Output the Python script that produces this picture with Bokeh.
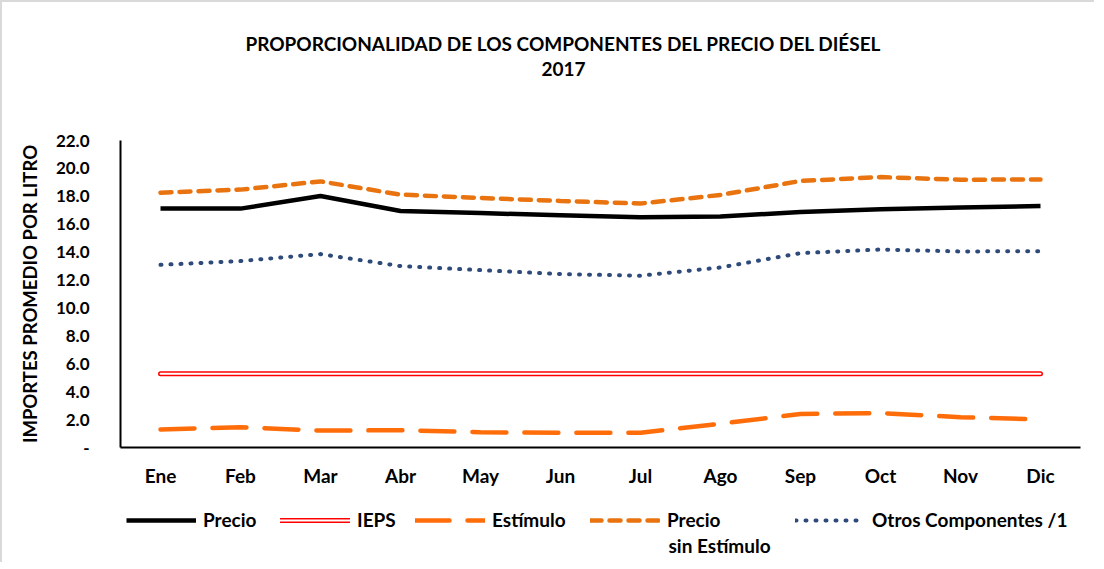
from bokeh.plotting import figure
from bokeh.layouts import column
from bokeh.models import Legend, LegendItem, Label, FactorRange, SingleIntervalTicker, CustomJSTickFormatter
from bokeh.embed import file_html
from bokeh.resources import INLINE

months = ["Ene", "Feb", "Mar", "Abr", "May", "Jun", "Jul", "Ago", "Sep", "Oct", "Nov", "Dic"]
precio = [17.12, 17.12, 18.02, 16.95, 16.80, 16.64, 16.50, 16.55, 16.88, 17.08, 17.19, 17.30]
ieps = [5.29] * 12
estimulo = [1.29, 1.45, 1.21, 1.24, 1.10, 1.05, 1.05, 1.71, 2.40, 2.47, 2.17, 2.02]
precio_sin = [18.26, 18.48, 19.07, 18.12, 17.88, 17.67, 17.48, 18.10, 19.10, 19.38, 19.19, 19.21]
otros = [13.09, 13.36, 13.86, 13.00, 12.71, 12.43, 12.31, 12.90, 13.93, 14.19, 14.05, 14.07]

title_1 = "PROPORCIONALIDAD DE LOS COMPONENTES DEL PRECIO DEL DIÉSEL"
title_2 = "2017"
y_title = "IMPORTES PROMEDIO POR LITRO"
legend_labels = ["Precio", "IEPS", "Estímulo", "Precio", "Otros Componentes /1"]
legend_extra = "sin Estímulo"

FONT = "Lato"
W = 1092

STYLES = {
    "precio": dict(line_color="black", line_width=4.5, line_join="round"),
    "ieps_o": dict(line_color="#ff0000", line_width=5, line_cap="round"),
    "ieps_i": dict(line_color="white", line_width=2, line_cap="round"),
    "est": dict(line_color="#ff6d0a", line_width=4.5, line_dash="34 18", line_cap="round"),
    "sin": dict(line_color="#e8730f", line_width=4.5, line_dash="11 8", line_cap="round"),
    "otros": dict(line_color="#2e4a7a", line_width=4, line_dash="1 9", line_cap="round"),
}

# ---- title band ----
p0 = figure(width=W, height=126, x_range=(0, 1), y_range=(0, 1), x_axis_type=None, y_axis_type=None,
            output_backend="svg", toolbar_location=None, min_border=0, outline_line_color=None)
p0.grid.visible = False
for txt, yy in ((title_1, 85), (title_2, 60)):
    p0.add_layout(Label(x=443, y=yy, x_units="screen", y_units="screen", text=txt,
                        text_align="center", text_baseline="middle", text_font=FONT,
                        text_font_style="bold", text_font_size="19px", text_color="black"))

# ---- main chart ----
p = figure(x_range=FactorRange(*months), y_range=(0, 22), width=W, height=364,
           output_backend="svg", toolbar_location=None,
           min_border_left=118, min_border_right=14, min_border_top=12, min_border_bottom=45)
p.grid.visible = False
p.outline_line_color = None

p.line(months, precio, **STYLES["precio"])
p.line(months, ieps, **STYLES["ieps_o"])
p.line(months, ieps, **STYLES["ieps_i"])
p.line(months, estimulo, **STYLES["est"])
p.line(months, precio_sin, **STYLES["sin"])
p.line(months, otros, **STYLES["otros"])

p.yaxis.ticker = SingleIntervalTicker(interval=2)
p.yaxis.formatter = CustomJSTickFormatter(code="return tick == 0 ? '-' : tick.toFixed(1);")
for ax in (p.xaxis[0], p.yaxis[0]):
    ax.major_tick_line_color = None
    ax.minor_tick_line_color = None
    ax.axis_line_color = "black"
    ax.axis_line_width = 2
    ax.major_label_text_font = FONT
    ax.major_label_text_font_style = "bold"
    ax.major_label_text_color = "black"
p.xaxis.major_label_text_font_size = "19px"
p.yaxis.major_label_text_font_size = "17px"
p.xaxis.major_label_standoff = 10
p.yaxis.major_label_standoff = 25
p.yaxis.axis_label = y_title
p.yaxis.axis_label_text_font = FONT
p.yaxis.axis_label_text_font_style = "bold"
p.yaxis.axis_label_text_font_size = "18.5px"
p.yaxis.axis_label_text_color = "black"
p.yaxis.axis_label_standoff = 12

# ---- legend band (series lines fall outside this band's y range; only the key shows) ----
p2 = figure(width=W, height=70, x_range=FactorRange(*months), y_range=(100, 101),
            x_axis_type=None, y_axis_type=None,
            output_backend="svg", toolbar_location=None, min_border=0, outline_line_color=None)
p2.grid.visible = False
k_precio = p2.line(months, precio, **STYLES["precio"])
k_ieps_o = p2.line(months, ieps, **STYLES["ieps_o"])
k_ieps_i = p2.line(months, ieps, **STYLES["ieps_i"])
k_est = p2.line(months, estimulo, **STYLES["est"])
k_sin = p2.line(months, precio_sin, **STYLES["sin"])
k_otros = p2.line(months, otros, **STYLES["otros"])
groups = [[k_precio], [k_ieps_o, k_ieps_i], [k_est], [k_sin], [k_otros]]
item_x = [6, 160, 295, 470, 675]
for lab, rends, xx in zip(legend_labels, groups, item_x):
    p2.add_layout(Legend(items=[LegendItem(label=lab, renderers=rends)], location=(xx, 31),
                         glyph_width=70, glyph_height=20, label_standoff=7, margin=0, padding=0,
                         border_line_color=None, background_fill_alpha=0,
                         label_text_font=FONT, label_text_font_style="bold",
                         label_text_font_size="19px", label_text_color="black"))
p2.add_layout(Label(x=548, y=17, x_units="screen", y_units="screen", text=legend_extra,
                    text_align="left", text_baseline="middle", text_font=FONT,
                    text_font_style="bold", text_font_size="19px", text_color="black"))

layout = column(p0, p, p2, spacing=0)
layout.styles = {"border-left": "2px solid #d9d9d9", "border-top": "2px solid #d9d9d9"}

open("out.html", "w").write(file_html(layout, INLINE))
